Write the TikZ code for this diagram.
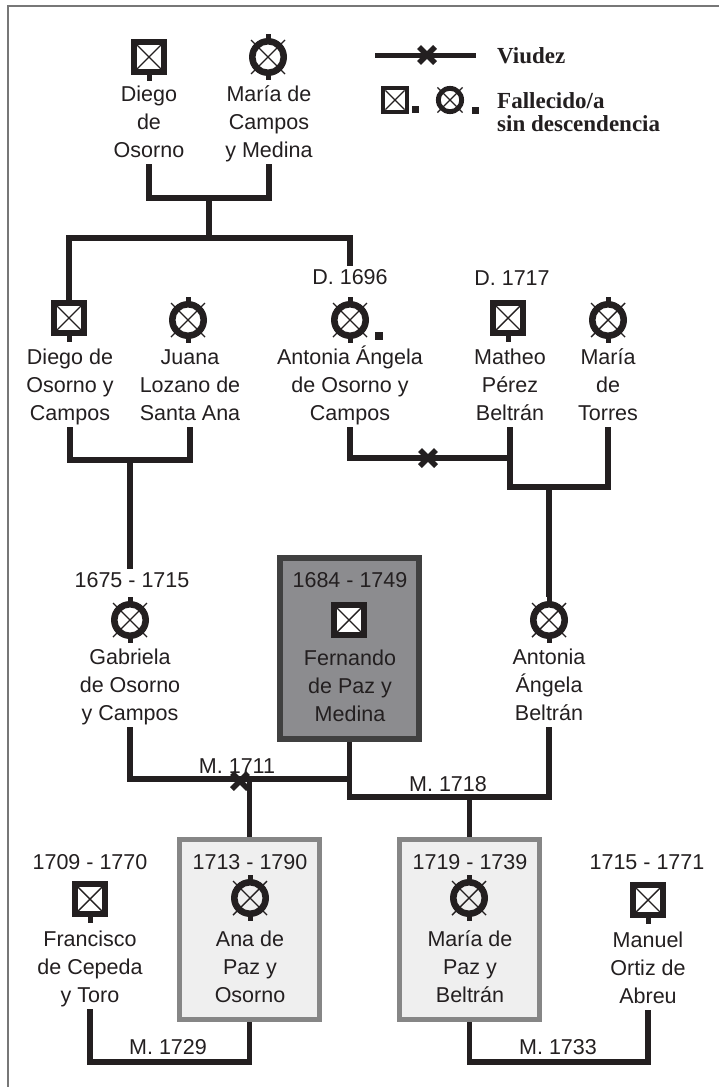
\documentclass[tikz,border=0pt]{standalone}
\usepackage{fontspec}
\setmainfont{Liberation Sans}
\newfontfamily\legfont{Liberation Serif}
\definecolor{ink}{HTML}{231F20}
\definecolor{fernfill}{HTML}{8C8C8F}
\definecolor{fernline}{HTML}{404040}
\definecolor{lightfill}{HTML}{EFEFEF}
\definecolor{lightline}{HTML}{868686}
\definecolor{framec}{HTML}{777777}
\newcommand{\ls}{\rule[-7pt]{0pt}{28pt}}
\newcommand{\lls}{\rule[-6pt]{0pt}{23pt}}
\newcommand{\tri}[3]{\ls #1\\\ls #2\\\ls #3}
\tikzset{
  ln/.style={draw=ink, line width=5.5pt, line join=miter},
  nm/.style={align=center, inner sep=0pt, outer sep=0pt, text=ink, font=\fontsize{21.5}{28}\selectfont},
  dt/.style={inner sep=0pt, outer sep=4pt, text height=15pt, text depth=0pt, text=ink, font=\fontsize{21.5}{28}\selectfont},
  leg/.style={inner sep=0pt, text=ink, font=\legfont\bfseries\fontsize{23}{23}\selectfont},
  fbox/.style={rectangle, draw=fernline, fill=fernfill, line width=6pt, minimum width=139pt, minimum height=181pt, inner sep=0pt},
  lbox/.style={rectangle, draw=lightline, fill=lightfill, line width=5pt, minimum width=140pt, minimum height=180pt, inner sep=0pt},
  psqb/.pic={
    \fill[ink] (-18,-18) rectangle (18,18);
    \fill[white] (-12,-12) rectangle (12,12);
    \draw[ink,line width=1.4pt] (-12,-12) -- (12,12) (-12,12) -- (12,-12);
    \coordinate (-n) at (0,-18);
    \coordinate (-s) at (0,18);
  },
  psq/.pic={
    \fill[ink] (-18,-18) rectangle (18,18);
    \fill[white] (-12,-12) rectangle (12,12);
    \draw[ink,line width=1.4pt] (-12,-12) -- (12,12) (-12,12) -- (12,-12);
    \fill[ink] (-2.5,18) rectangle (2.5,24);
    \coordinate (-n) at (0,-18);
    \coordinate (-s) at (0,24);
  },
  pci/.pic={
    \fill[ink,even odd rule] (0,0) circle[radius=19] (0,0) circle[radius=12.5];
    \draw[ink,line width=1.4pt] (-17,-17) -- (17,17) (-17,17) -- (17,-17);
    \fill[ink] (-2.5,-23) rectangle (2.5,-18);
    \fill[ink] (-2.5,18) rectangle (2.5,23);
    \coordinate (-n) at (0,-23);
    \coordinate (-s) at (0,23);
  },
  pcil/.pic={
    \fill[ink,even odd rule] (0,0) circle[radius=19] (0,0) circle[radius=12.5];
    \draw[ink,line width=1.2pt] (-17,-17) -- (17,17) (-17,17) -- (17,-17);
  },
  xmark/.pic={
    \draw[ink,line width=5.5pt] (-8,-8) -- (8,8) (-8,8) -- (8,-8);
  }
}
\begin{document}
\begin{tikzpicture}[x=1pt,y=-1pt]
\useasboundingbox (0,0) rectangle (718,1087);
\fill[white] (0,0) rectangle (718,1087);
\draw[framec,line width=2pt] (8,1092) -- (8,6) -- (722,6);

% legend
\coordinate (lgA) at (375,55);
\coordinate (lgB) at (476,55);
\draw[ln,line width=5pt] (lgA) -- (lgB);
\pic (lgX) at (427,55) {xmark};
\node[leg,anchor=west] (lgV) at (497,58) {\lls Viudez};
\pic[scale=0.8] (lsq) at (395,100) {psqb};
\fill[ink] (412,106) rectangle (419,113);
\pic[scale=0.74] (lci) at (450,100) {pcil};
\fill[ink] (472,107) rectangle (479,114);
\node[leg,anchor=west,align=left] (lgF) at (497,114) {\lls Fallecido/a\\\lls sin descendencia};

% generation 1
\pic (iDos) at (149,57) {psq};
\node[nm] (nDos) at (149,122) {\tri{Diego}{de}{Osorno}};
\pic (iMcm) at (268,57) {pci};
\node[nm] (nMcm) at (269,122) {\tri{María de}{Campos}{y Medina}};
\draw[ln] (nDos.south) -- ++(0,34) -| (nMcm.south);
\coordinate (f1) at (209,198);
\coordinate (f1b) at (209,238);
\draw[ln] (f1) -- (f1b);

% generation 2
\node[dt] (d1696) at (350,277) {D. 1696};
\node[dt] (d1717) at (512,278) {D. 1717};
\pic (iDoc) at (69,318) {psq};
\node[nm] (nDoc) at (70,385) {\tri{Diego de}{Osorno y}{Campos}};
\pic (iJua) at (188,320) {pci};
\node[nm] (nJua) at (190,385) {\tri{Juana}{Lozano de}{Santa Ana}};
\pic (iAao) at (350,320) {pci};
\fill[ink] (375,332) rectangle (383,340);
\node[nm] (nAao) at (350,385) {\tri{Antonia Ángela}{de Osorno y}{Campos}};
\pic (iMat) at (508,318) {psq};
\node[nm] (nMat) at (510,385) {\tri{Matheo}{Pérez}{Beltrán}};
\pic (iMto) at (608,320) {pci};
\node[nm] (nMto) at (608,385) {\tri{María}{de}{Torres}};

\draw[ln] (iDoc-n) -- (iDoc-n |- f1b) -- (d1696.north |- f1b) -- (d1696.north);

% generation 3
\node[fbox] (fern) at (349.5,648.5) {};
\node[dt] (d1675) at (132,580) {1675 - 1715};
\pic (iGab) at (130,620) {pci};
\node[nm] (nGab) at (130,685) {\tri{Gabriela}{de Osorno}{y Campos}};
\node[dt] (d1684) at (350,580) {1684 - 1749};
\pic (iFer) at (349,620) {psqb};
\node[nm] (nFer) at (350,686) {\tri{Fernando}{de Paz y}{Medina}};
\pic (iAab) at (549,620) {pci};
\node[nm] (nAab) at (549,685) {\tri{Antonia}{Ángela}{Beltrán}};

\draw[ln] (nDoc.south) -- ++(0,33) -| (nJua.south);
\coordinate (f2) at (130,460);
\draw[ln] (f2) -- (f2 |- d1675.north);

\coordinate (w1) at (0,458);
\draw[ln] (nMat.south) -- ++(0,60) -| (nMto.south);
\draw[ln] (nAao.south) |- (nMat.south |- w1);
\pic (xv1) at (428,458) {xmark};
\coordinate (f3) at (549,487);
\draw[ln] (f3) -- (iAab-n);

% marriages of Fernando
\coordinate (h1) at (0,779);
\coordinate (h2) at (0,797);
\draw[ln] (nGab.south) |- (fern.south |- h1);
\draw[ln] (fern.south) |- (nAab.south |- h2) -- (nAab.south);
\node[dt] (m1711) at (237,766) {M. 1711};
\pic (xv2) at (240,781) {xmark};
\node[dt] (m1718) at (448,784) {M. 1718};

% generation 4
\node[lbox] (ana) at (249.5,929.5) {};
\node[lbox] (mpz) at (469.5,929.5) {};
\draw[ln] (ana.north |- h1) -- (ana.north);
\draw[ln] (mpz.north |- h2) -- (mpz.north);

\node[dt] (d1709) at (90,862) {1709 - 1770};
\pic (iFra) at (90,899) {psq};
\node[nm] (nFra) at (90,967) {\tri{Francisco}{de Cepeda}{y Toro}};
\node[dt] (d1713) at (250,862) {1713 - 1790};
\pic (iAna) at (250,898) {pci};
\node[nm] (nAna) at (250,967) {\tri{Ana de}{Paz y}{Osorno}};
\node[dt] (d1719) at (470,862) {1719 - 1739};
\pic (iMpz) at (469,898) {pci};
\node[nm] (nMpz) at (470,967) {\tri{María de}{Paz y}{Beltrán}};
\node[dt] (d1715) at (647,862) {1715 - 1771};
\pic (iMan) at (648,900) {psq};
\node[nm] (nMan) at (648,968) {\tri{Manuel}{Ortiz de}{Abreu}};

\coordinate (h3) at (0,1062);
\draw[ln] (nFra.south) |- (ana.south |- h3) -- (ana.south);
\node[dt] (m1729) at (168,1047) {M. 1729};
\draw[ln] (mpz.south) |- (nMan.south |- h3) -- (nMan.south);
\node[dt] (m1733) at (558,1047) {M. 1733};
\end{tikzpicture}
\end{document}
